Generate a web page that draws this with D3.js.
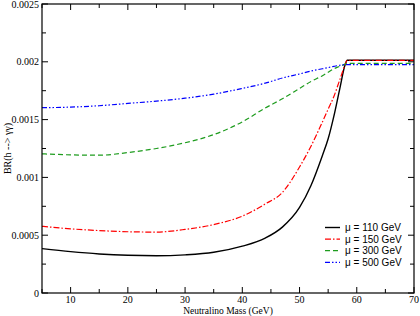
<!DOCTYPE html>
<html>
<head>
<meta charset="utf-8">
<script src="https://d3js.org/d3.v7.min.js"></script>
<style>
  body { margin: 0; background: #fff; }
  .tick-label { font-family: "Liberation Serif", "Times New Roman", serif; font-size: 10px; }
  .legend text { font-family: "Liberation Sans", Arial, sans-serif; font-size: 10px; }
</style>
</head>
<body>
<svg width="420" height="316"></svg>
<script>
// neutralino mass grid (GeV)
var mass = [5, 10, 15, 20, 25, 30, 35, 40, 44, 47, 50, 52, 54, 55, 56, 57, 58, 58.3, 60, 65, 70];

// BR(h -> gamma gamma) for each mu
var mu110 = [0.000384, 0.000358, 0.000338, 0.000326, 0.000322, 0.000330, 0.000352, 0.000405, 0.000475, 0.000570,
             0.000740, 0.000930, 0.001190, 0.001334, 0.001530, 0.001760, 0.001980, 0.002013, 0.002013, 0.002013, 0.002013];
var mu150 = [0.000577, 0.000555, 0.000540, 0.000530, 0.000527, 0.000550, 0.000592, 0.000665, 0.000770, 0.000870,
             0.001090, 0.001270, 0.001480, 0.001590, 0.001700, 0.001840, 0.001980, 0.002013, 0.002013, 0.002013, 0.002013];
var mu300 = [0.001204, 0.001195, 0.001192, 0.001215, 0.001250, 0.001300, 0.001370, 0.001480, 0.001600, 0.001680,
             0.001770, 0.001830, 0.001880, 0.001910, 0.001940, 0.001960, 0.001980, 0.001987, 0.001987, 0.001987, 0.001987];
var mu500 = [0.001603, 0.001608, 0.001620, 0.001640, 0.001660, 0.001685, 0.001720, 0.001770, 0.001815, 0.001860,
             0.001895, 0.001920, 0.001940, 0.001950, 0.001960, 0.001970, 0.001976, 0.001976, 0.001976, 0.001976, 0.001976];

var seriesNames = ["\u03bc = 110 GeV", "\u03bc = 150 GeV", "\u03bc = 300 GeV", "\u03bc = 500 GeV"];
var seriesValues = [mu110, mu150, mu300, mu500];
var seriesColors = ["#000000", "#ff0000", "#1e9c1e", "#0000ff"];
var seriesDash = [null, "6,2,1.5,2", "5,3", "5,2,1.5,2,1.5,2"];

var xTicks = [10, 20, 30, 40, 50, 60, 70];
var yTicks = [0, 0.0005, 0.001, 0.0015, 0.002, 0.0025];

var margin = {left: 42, right: 6, top: 4, bottom: 23};
var width = 420, height = 316;

var svg = d3.select("svg");

var x = d3.scaleLinear()
	.domain([5, 70])
	.range([margin.left, width - margin.right]);
var y = d3.scaleLinear()
	.domain([0, 0.0025])
	.range([height - margin.bottom, margin.top]);

var x0 = x.range()[0], x1 = x.range()[1];
var y0 = y.range()[0], y1 = y.range()[1];

// minor/major ticks, pointing inward on all four sides
var xMinor = d3.range(5, 71, 5);
var yMinor = d3.range(0, 0.0025001, 0.00025);

var tickG = svg.append("g").attr("stroke", "#000").attr("stroke-width", 1);

xMinor.forEach(function(v) {
	var len = (v % 10 === 0) ? 6 : 4;
	tickG.append("line").attr("x1", x(v)).attr("x2", x(v)).attr("y1", y0).attr("y2", y0 - len);
	tickG.append("line").attr("x1", x(v)).attr("x2", x(v)).attr("y1", y1).attr("y2", y1 + len);
});
yMinor.forEach(function(v, i) {
	var len = (i % 2 === 0) ? 6 : 4;
	tickG.append("line").attr("x1", x0).attr("x2", x0 + len).attr("y1", y(v)).attr("y2", y(v));
	tickG.append("line").attr("x1", x1).attr("x2", x1 - len).attr("y1", y(v)).attr("y2", y(v));
});

// tick labels
svg.selectAll(".xlab")
	.data(xTicks)
	.enter().append("text")
	.attr("class", "tick-label")
	.attr("x", function(d) { return x(d); })
	.attr("y", y0 + 10)
	.attr("text-anchor", "middle")
	.text(function(d) { return d; });

svg.selectAll(".ylab")
	.data(yTicks)
	.enter().append("text")
	.attr("class", "tick-label")
	.attr("x", x0 - 3)
	.attr("y", function(d) { return y(d) + 3.5; })
	.attr("text-anchor", "end")
	.text(function(d) { return d === 0 ? "0" : String(d); });

// axis titles
svg.append("text")
	.attr("class", "tick-label")
	.attr("x", (x0 + x1) / 2)
	.attr("y", 313.5)
	.attr("text-anchor", "middle")
	.style("font-size", "9.5px")
	.text("Neutralino Mass (GeV)");

svg.append("text")
	.attr("class", "tick-label")
	.attr("transform", "translate(11," + ((y0 + y1) / 2) + ") rotate(-90)")
	.attr("text-anchor", "middle")
	.text("BR(h --> \u03b3\u03b3)");

// curves
var line = d3.line()
	.curve(d3.curveMonotoneX)
	.x(function(d, i) { return x(mass[i]); })
	.y(function(d) { return y(d); });

svg.selectAll(".curve")
	.data(seriesValues)
	.enter().append("path")
	.attr("class", "curve")
	.attr("fill", "none")
	.attr("stroke", function(d, i) { return seriesColors[i]; })
	.attr("stroke-width", function(d, i) { return i === 0 ? 1.4 : 1.2; })
	.attr("stroke-dasharray", function(d, i) { return seriesDash[i]; })
	.attr("d", line);

// frame
svg.append("rect")
	.attr("x", x0).attr("y", y1)
	.attr("width", x1 - x0).attr("height", y0 - y1)
	.attr("fill", "none")
	.attr("stroke", "#000")
	.attr("stroke-width", 1.2);

// legend
var legend = svg.append("g").attr("class", "legend");
var rows = legend.selectAll("g")
	.data(seriesNames)
	.enter().append("g")
	.attr("transform", function(d, i) { return "translate(325," + (227.5 + i * 11.6) + ")"; });

rows.append("line")
	.attr("x1", 0).attr("x2", 15)
	.attr("stroke", function(d, i) { return seriesColors[i]; })
	.attr("stroke-width", function(d, i) { return i === 0 ? 1.4 : 1.2; })
	.attr("stroke-dasharray", function(d, i) { return seriesDash[i]; });

rows.append("text")
	.attr("x", 20)
	.attr("y", 3.5)
	.text(function(d) { return d; });
</script>
</body>
</html>
